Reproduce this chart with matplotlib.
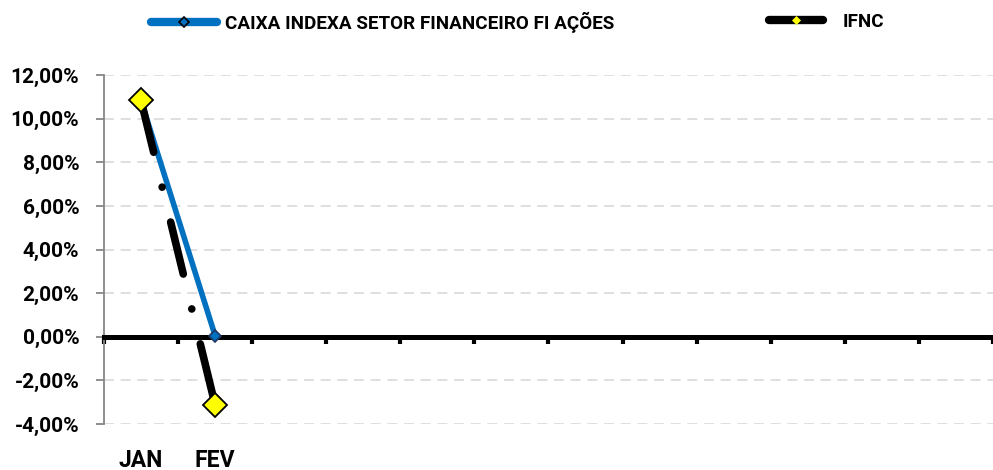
import matplotlib
matplotlib.use('Agg')
from matplotlib import pyplot as plt
from matplotlib.lines import Line2D
from matplotlib.ticker import FuncFormatter, MultipleLocator

plt.rcParams['font.family'] = ['Roboto', 'DejaVu Sans']
plt.rcParams['font.weight'] = 'bold'

months = ['JAN', 'FEV', '', '', '', '', '', '', '', '', '', '']
caixa = [10.83, 0.05]
ifnc = [10.85, -3.12]
series_names = ['CAIXA INDEXA SETOR FINANCEIRO FI AÇÕES', 'IFNC']

fig = plt.figure(figsize=(9.93, 4.70), dpi=100)
ax = fig.add_axes([0.1047, 0.098, 0.8953, 0.742])

x = list(range(len(caixa)))
blue = '#0070C0'
ax.plot(x, caixa, color=blue, lw=4, marker='D', ms=6,
        mfc=blue, mec='#1F3864', mew=1.2, zorder=4)
# long dash / dot pattern of the index line
ax.plot(x, ifnc, color='black', lw=5.5, ls=(0, (7, 4.7, 0.01, 4.7)),
        dash_capstyle='round', zorder=5)
ax.plot(x, ifnc, ls='none', marker='D', ms=12.5, mfc='#FFFF00',
        mec='black', mew=1.3, zorder=6)

ax.set_xlim(-0.5, len(months) - 0.5)
ax.set_ylim(-4, 12)
ax.yaxis.set_major_locator(MultipleLocator(2))
ax.yaxis.set_major_formatter(FuncFormatter(lambda v, p: f'{v:.2f}%'.replace('.', ',')))
ax.grid(axis='y', color='#D9D9D9', ls=(0, (6, 4)), lw=1.2)
ax.set_axisbelow(True)

for s in ['top', 'right']:
    ax.spines[s].set_visible(False)
ax.spines['left'].set_color('#868686')
ax.spines['left'].set_linewidth(1.3)
ax.spines['bottom'].set_position(('data', 0))
ax.spines['bottom'].set_linewidth(3.6)
ax.spines['bottom'].set_zorder(3)

ax.tick_params(axis='y', colors='#868686', length=5.8, width=1.3, labelsize=15,
               labelcolor='black', pad=12)
ax.set_xticks([i - 0.5 for i in range(len(months) + 1)])
ax.set_xticklabels([])
ax.tick_params(axis='x', length=5, width=3, color='black', direction='out')

sec = ax.secondary_xaxis(location=0)
sec.set_xticks(x, months[:len(x)])
sec.tick_params(length=0, labelsize=16.5, pad=18)
sec.spines['bottom'].set_visible(False)
for lab in ax.get_yticklabels() + sec.get_xticklabels():
    lab.set_fontweight('bold')

h_caixa = Line2D([], [], color=blue, lw=6, marker='D', ms=5.6, mfc=blue, mec='black',
                 mew=1.2, solid_capstyle='round')
h_ifnc = Line2D([], [], color='black', lw=6, marker='D', ms=4, mfc='#FFFF00',
                mec='#FFFF00', mew=0.5, solid_capstyle='round')
prop = {'weight': 'bold', 'size': 13.6}
fig.legend([h_caixa], [series_names[0]], loc='center left',
           bbox_to_anchor=(0.152, 0.953), frameon=False, prop=prop,
           borderpad=0, borderaxespad=0, handlelength=3.5, handletextpad=0.42)
fig.legend([h_ifnc], [series_names[1]], loc='center left',
           bbox_to_anchor=(0.774, 0.953), frameon=False, prop=prop,
           borderpad=0, borderaxespad=0, handlelength=2.9, handletextpad=1.0)

fig.savefig('out.png', dpi=100)
